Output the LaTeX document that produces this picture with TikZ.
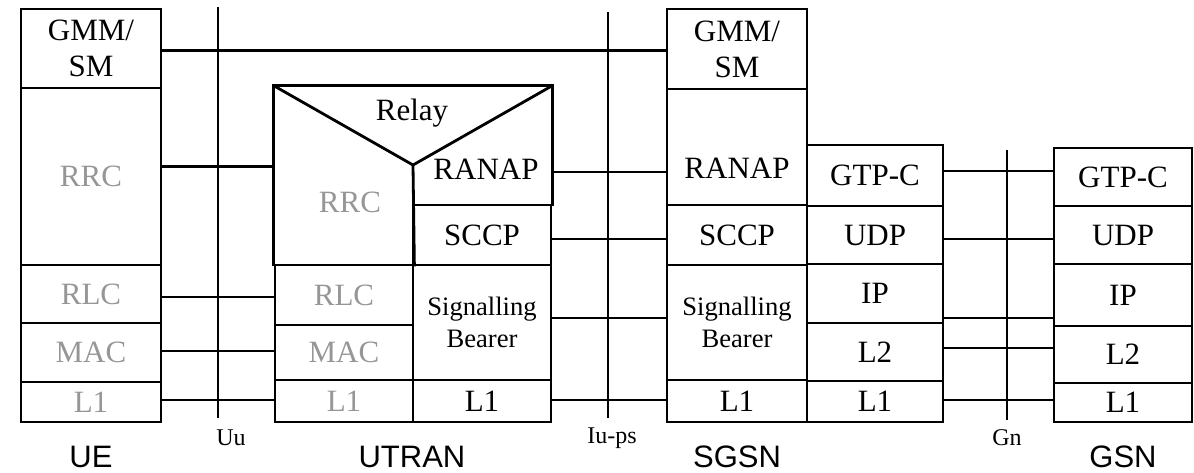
\documentclass[tikz,border=0pt]{standalone}
\usepackage{fontspec}
\setmainfont{Liberation Serif}
\setsansfont{Liberation Sans}
\usepackage{tikz}
\usetikzlibrary{positioning,calc}
\definecolor{layergray}{RGB}{150,150,150}

\begin{document}
\begin{tikzpicture}[
    x=0.5pt, y=-0.5pt, line width=1.4pt,
    layer/.style={draw, rectangle, inner sep=0pt, align=center, font=\fontsize{15.5}{18}\selectfont},
    txt/.style={inner sep=0pt, align=center, font=\fontsize{15.5}{18}\selectfont},
    sigbox/.style={layer, font=\fontsize{13.3}{16}\selectfont},
    iface/.style={inner sep=0pt, anchor=base, font=\fontsize{12}{14}\selectfont},
    entity/.style={inner sep=0pt, anchor=base, font=\sffamily\fontsize{15.5}{17}\selectfont},
]
    \useasboundingbox (0,0) rectangle (1194,472);
    % UE stack
    \foreach \n/\t/\b/\c/\txt in {gmm/9/88/black/{GMM/\\SM}, rrc/88/265/layergray/RRC,
        rlc/265/323/layergray/RLC, mac/323/382/layergray/MAC, l1/382/422/layergray/L1} {
        \pgfmathsetmacro{\ymid}{(\t+\b)/2}
        \pgfmathsetmacro{\hgt}{(\b-\t)/2}
        \node[layer, text=\c, minimum width=70pt, minimum height=\hgt pt] (ue-\n) at (91,\ymid) {\txt};
    }
    % UTRAN stack, left column
    \node[minimum width=69pt, minimum height=89pt, inner sep=0pt] (ut-rrc) at (344,176) {};
    \node[txt, text=layergray] (ut-rrc-txt) at (350,202) {RRC};
    \foreach \n/\t/\b/\txt in {rlc/265/325/RLC, mac/325/380/MAC, l1/380/422/L1} {
        \pgfmathsetmacro{\ymid}{(\t+\b)/2}
        \pgfmathsetmacro{\hgt}{(\b-\t)/2}
        \node[layer, text=layergray, minimum width=69pt, minimum height=\hgt pt] (ut-\n) at (344,\ymid) {\txt};
    }
    % UTRAN stack, right column
    \node[minimum width=69pt, minimum height=59pt, inner sep=0pt] (ut-ranap) at (482,146) {};
    \node[txt] (ut-ranap-txt) at (486,169) {RANAP};
    \node[layer, minimum width=69pt, minimum height=30pt] (ut-sccp) at (482,235) {SCCP};
    \node[sigbox, minimum width=69pt, minimum height=57.5pt] (ut-sb) at (482,322.5) {Signalling\\Bearer};
    \node[layer, minimum width=69pt, minimum height=21pt] (ut-l1r) at (482,401) {L1};
    % Relay
    \coordinate (relay-apex) at (413,165);
    \draw (ut-rrc.south west) -- (ut-rrc.north west) -- (ut-ranap.north east) -- (ut-ranap.south east);
    \draw (ut-rrc.north west) -- (relay-apex) -- (ut-ranap.north east);
    \draw (relay-apex) -- (ut-rrc.south east);
    \node[txt, anchor=base] (ut-relay) at (412,120) {Relay};
    % SGSN stack, left column
    \node[layer, minimum width=70pt, minimum height=40pt] (sg-gmm) at (737,49) {GMM/\\SM};
    \node[layer, minimum width=70pt, minimum height=58pt] (sg-ranap) at (737,147) {};
    \node[txt] (sg-ranap-txt) at (737,168) {RANAP};
    \node[layer, minimum width=70pt, minimum height=30pt] (sg-sccp) at (737,235) {SCCP};
    \node[sigbox, minimum width=70pt, minimum height=57.5pt] (sg-sb) at (737,322.5) {Signalling\\Bearer};
    \node[layer, minimum width=70pt, minimum height=21pt] (sg-l1) at (737,401) {L1};
    % SGSN stack, right column
    \foreach \n/\t/\b/\txt in {gtp/145/206/GTP-C, udp/206/264/UDP, ip/264/323/IP, l2/323/381/L2, l1r/381/422/L1} {
        \pgfmathsetmacro{\ymid}{(\t+\b)/2}
        \pgfmathsetmacro{\hgt}{(\b-\t)/2}
        \node[layer, minimum width=68pt, minimum height=\hgt pt] (sg-\n) at (875,\ymid) {\txt};
    }
    % GSN stack
    \foreach \n/\t/\b/\txt in {gtp/148/206/GTP-C, udp/206/264/UDP, ip/264/326/IP, l2/326/383/L2, l1/383/422/L1} {
        \pgfmathsetmacro{\ymid}{(\t+\b)/2}
        \pgfmathsetmacro{\hgt}{(\b-\t)/2}
        \node[layer, minimum width=69pt, minimum height=\hgt pt] (gsn-\n) at (1123,\ymid) {\txt};
    }
    % Reference points
    \coordinate (uu-top) at (218,7);     \coordinate (uu-bot) at (218,418);
    \coordinate (iups-top) at (608,12);  \coordinate (iups-bot) at (608,418);
    \coordinate (gn-top) at (1007,150);  \coordinate (gn-bot) at (1007,420);
    \draw (uu-top) -- (uu-bot);
    \draw (iups-top) -- (iups-bot);
    \draw (gn-top) -- (gn-bot);
    \node[iface] (uu) at (231,445) {Uu};
    \node[iface] (iups) at (612,443) {Iu-ps};
    \node[iface] (gn) at (1007,445) {Gn};
    % Peer links
    \draw ([yshift=-1pt]ue-gmm.east) -- ([yshift=-1pt]ue-gmm.east -| sg-gmm.west);
    \draw ([yshift=5pt]ue-rrc.east) -- ([yshift=5pt]ue-rrc.east -| ut-rrc.west);
    \draw ([yshift=-1.5pt]ue-rlc.east) -- ([yshift=-1.5pt]ue-rlc.east -| ut-rlc.west);
    \draw ([yshift=0.75pt]ue-mac.east) -- ([yshift=0.75pt]ue-mac.east -| ut-mac.west);
    \draw ([yshift=1pt]ue-l1.east) -- ([yshift=1pt]ue-l1.east -| ut-l1.west);
    \draw ([yshift=-13pt]ut-ranap.east) -- ([yshift=-13pt]ut-ranap.east -| sg-ranap.west);
    \draw ([yshift=-2pt]ut-sccp.east) -- ([yshift=-2pt]ut-sccp.east -| sg-sccp.west);
    \draw ([yshift=2.25pt]ut-sb.east) -- ([yshift=2.25pt]ut-sb.east -| sg-sb.west);
    \draw ([yshift=0.5pt]ut-l1r.east) -- ([yshift=0.5pt]ut-l1r.east -| sg-l1.west);
    \draw ([yshift=2.25pt]sg-gtp.east) -- ([yshift=2.25pt]sg-gtp.east -| gsn-gtp.west);
    \draw ([yshift=-2pt]sg-udp.east) -- ([yshift=-2pt]sg-udp.east -| gsn-udp.west);
    \draw ([yshift=-12.25pt]sg-ip.east) -- ([yshift=-12.25pt]sg-ip.east -| gsn-ip.west);
    \draw ([yshift=2pt]sg-l2.east) -- ([yshift=2pt]sg-l2.east -| gsn-l2.west);
    \draw ([yshift=0.75pt]sg-l1r.east) -- ([yshift=0.75pt]sg-l1r.east -| gsn-l1.west);
    % Entities
    \node[entity] (ue) at (91,467) {UE};
    \node[entity] (utran) at (412,467) {UTRAN};
    \node[entity] (sgsn) at (737,467) {SGSN};
    \node[entity] (gsn) at (1123,467) {GSN};
\end{tikzpicture}
\end{document}
